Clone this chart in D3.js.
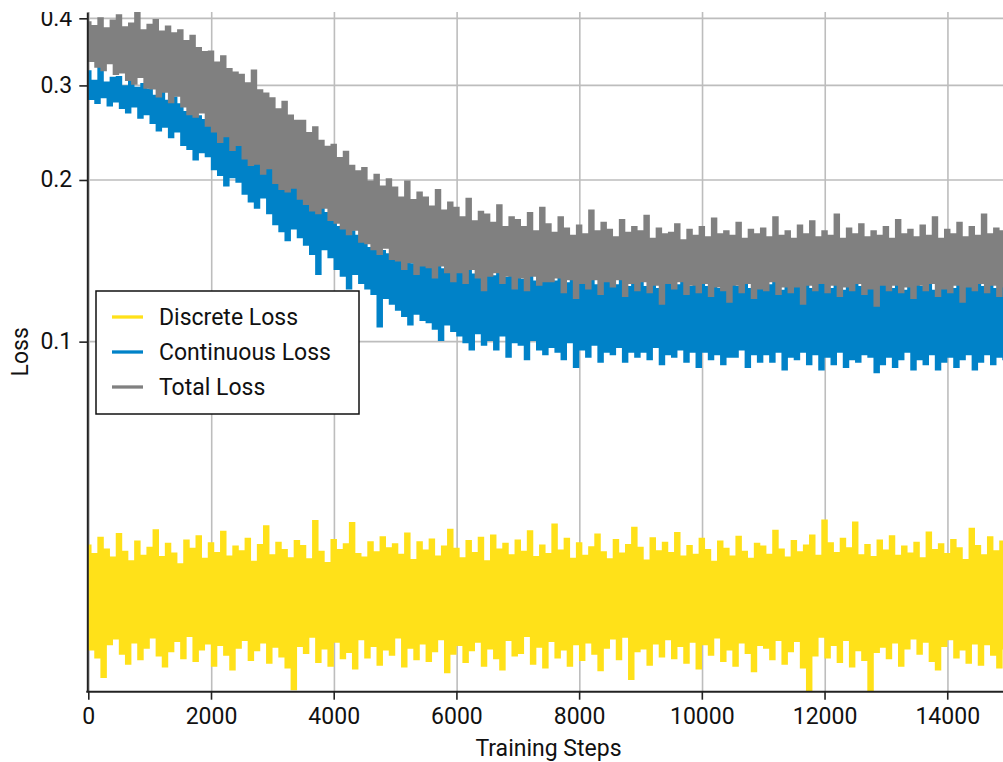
<!DOCTYPE html>
<html>
<head>
<meta charset="utf-8">
<script src="https://cdn.jsdelivr.net/npm/d3@7"></script>
<style>
  html, body { margin: 0; padding: 0; background: #fff; }
  svg { display: block; font-family: Roboto, "Noto Sans", sans-serif; }
</style>
</head>
<body>
<div id="chart"></div>
<script>
// one value every 50 training steps (high / low edge of the noise band alternate)
const stepSize = 50;

const discreteLoss = [
  .0416,.0268,.0401,.0259,.0430,.0238,.0409,.0274,.0395,.0281,
  .0437,.0263,.0405,.0252,.0389,.0276,.0423,.0257,.0398,.0270,
  .0412,.0282,.0444,.0261,.0396,.0249,.0419,.0266,.0402,.0278,
  .0384,.0258,.0425,.0284,.0410,.0255,.0433,.0268,.0393,.0275,
  .0420,.0250,.0403,.0273,.0441,.0262,.0397,.0246,.0414,.0270,
  .0406,.0279,.0428,.0256,.0388,.0267,.0417,.0276,.0452,.0253,
  .0399,.0271,.0421,.0260,.0408,.0248,.0394,.0226,.0424,.0272,
  .0415,.0264,.0392,.0283,.0462,.0254,.0405,.0269,.0386,.0250,
  .0426,.0277,.0408,.0258,.0418,.0265,.0458,.0247,.0401,.0280,
  .0395,.0259,.0422,.0272,.0404,.0251,.0431,.0268,.0411,.0262,
  .0418,.0282,.0400,.0249,.0438,.0270,.0391,.0257,.0422,.0275,
  .0407,.0255,.0427,.0266,.0397,.0280,.0414,.0243,.0445,.0263,
  .0410,.0273,.0394,.0254,.0424,.0267,.0403,.0277,.0430,.0250,
  .0389,.0269,.0434,.0258,.0409,.0246,.0419,.0279,.0399,.0261,
  .0425,.0264,.0405,.0284,.0442,.0252,.0396,.0271,.0416,.0248,
  .0401,.0278,.0455,.0259,.0407,.0268,.0428,.0250,.0393,.0274,
  .0420,.0256,.0398,.0276,.0413,.0263,.0436,.0245,.0404,.0270,
  .0392,.0281,.0426,.0257,.0402,.0283,.0417,.0236,.0449,.0266,
  .0412,.0269,.0390,.0251,.0429,.0275,.0406,.0260,.0421,.0280,
  .0403,.0258,.0439,.0272,.0397,.0253,.0415,.0277,.0400,.0247,
  .0428,.0274,.0408,.0262,.0388,.0282,.0423,.0255,.0410,.0268,
  .0397,.0250,.0432,.0276,.0405,.0264,.0393,.0244,.0419,.0273,
  .0414,.0270,.0400,.0257,.0443,.0279,.0409,.0252,.0395,.0266,
  .0424,.0278,.0404,.0248,.0416,.0224,.0434,.0261,.0398,.0283,
  .0463,.0259,.0420,.0273,.0403,.0254,.0428,.0279,.0411,.0249,
  .0459,.0267,.0399,.0256,.0417,.0224,.0396,.0265,.0425,.0271,
  .0407,.0258,.0433,.0276,.0398,.0250,.0414,.0269,.0402,.0281,
  .0421,.0263,.0394,.0277,.0440,.0255,.0408,.0246,.0418,.0272,
  .0401,.0280,.0426,.0259,.0411,.0268,.0391,.0253,.0447,.0275,
  .0415,.0251,.0399,.0274,.0431,.0262,.0406,.0248,.0423,.0269
];

const continuousLoss = [
  .318,.284,.305,.279,.326,.286,.303,.276,.309,.281,
  .310,.273,.298,.268,.306,.275,.296,.262,.301,.266,
  .294,.256,.286,.248,.291,.252,.280,.241,.284,.247,
  .276,.233,.267,.229,.272,.219,.262,.226,.258,.222,
  .255,.210,.245,.205,.250,.196,.240,.203,.236,.199,
  .233,.189,.225,.183,.229,.178,.219,.186,.214,.174,
  .211,.166,.202,.161,.207,.155,.197,.163,.193,.157,
  .190,.152,.182,.146,.186,.134,.177,.149,.173,.144,
  .171,.137,.163,.133,.167,.126,.160,.134,.157,.129,
  .156,.126,.149,.123,.153,.107,.147,.121,.145,.118,
  .147,.115,.141,.112,.145,.108,.139,.113,.143,.110,
  .144,.109,.138,.106,.142,.101,.136,.108,.140,.105,
  .140,.103,.134,.100,.138,.097,.133,.104,.137,.099,
  .137,.101,.132,.097,.136,.103,.131,.094,.135,.100,
  .136,.099,.130,.093,.134,.101,.129,.097,.133,.095,
  .134,.098,.129,.096,.133,.093,.128,.100,.132,.090,
  .133,.097,.128,.094,.132,.099,.127,.092,.131,.096,
  .132,.095,.127,.098,.131,.092,.126,.096,.130,.094,
  .131,.096,.126,.093,.130,.098,.125,.091,.129,.095,
  .132,.094,.127,.097,.130,.092,.126,.096,.129,.090,
  .131,.096,.126,.093,.130,.095,.125,.091,.129,.094,
  .130,.094,.126,.097,.131,.090,.125,.095,.129,.092,
  .132,.095,.127,.092,.130,.096,.124,.089,.129,.094,
  .130,.093,.126,.096,.131,.091,.125,.095,.128,.089,
  .130,.094,.125,.091,.129,.096,.124,.090,.128,.093,
  .131,.092,.126,.095,.129,.094,.125,.088,.128,.091,
  .129,.094,.125,.090,.130,.093,.124,.096,.128,.089,
  .130,.093,.126,.091,.129,.095,.124,.089,.128,.092,
  .131,.094,.125,.090,.129,.093,.126,.095,.128,.089,
  .130,.092,.126,.095,.129,.091,.125,.094,.131,.093
];

const totalLoss = [
  .392,.334,.386,.326,.399,.321,.382,.331,.395,.316,
  .404,.318,.384,.308,.390,.303,.411,.312,.379,.298,
  .388,.297,.396,.287,.377,.293,.385,.280,.374,.288,
  .379,.275,.362,.266,.370,.263,.351,.268,.345,.253,
  .346,.247,.330,.236,.339,.242,.321,.228,.316,.233,
  .313,.220,.302,.214,.319,.215,.293,.206,.289,.211,
  .283,.198,.270,.193,.279,.191,.263,.194,.257,.185,
  .257,.181,.244,.176,.250,.174,.236,.178,.230,.169,
  .232,.167,.219,.163,.225,.159,.212,.162,.207,.154,
  .210,.153,.198,.149,.204,.146,.194,.150,.200,.143,
  .193,.142,.185,.137,.198,.141,.183,.134,.189,.139,
  .185,.138,.178,.132,.191,.139,.175,.135,.181,.130,
  .177,.135,.170,.129,.184,.137,.167,.132,.174,.125,
  .172,.133,.166,.135,.179,.129,.163,.133,.170,.126,
  .168,.132,.163,.125,.173,.133,.160,.128,.177,.130,
  .165,.130,.159,.132,.170,.124,.162,.131,.157,.121,
  .164,.129,.158,.126,.175,.131,.160,.123,.166,.130,
  .161,.127,.156,.131,.168,.122,.159,.129,.163,.125,
  .160,.130,.171,.124,.155,.128,.162,.118,.158,.129,
  .159,.126,.165,.130,.154,.123,.161,.128,.157,.124,
  .163,.129,.156,.122,.169,.127,.158,.125,.160,.119,
  .157,.128,.166,.124,.155,.129,.161,.121,.158,.126,
  .162,.125,.156,.130,.170,.123,.157,.127,.160,.124,
  .155,.127,.164,.118,.158,.128,.167,.125,.156,.129,
  .160,.124,.157,.128,.172,.122,.155,.127,.162,.125,
  .158,.129,.165,.123,.156,.126,.160,.117,.157,.128,
  .163,.125,.155,.128,.168,.124,.158,.127,.161,.121,
  .156,.128,.164,.125,.157,.129,.170,.122,.155,.126,
  .161,.124,.158,.128,.166,.119,.156,.127,.163,.125,
  .157,.129,.172,.124,.158,.128,.162,.122,.160,.127
];

const seriesNames = ["Discrete Loss", "Continuous Loss", "Total Loss"];
const seriesColors = ["#ffe119", "#0082c8", "#808080"];
const xTicks = [0, 2000, 4000, 6000, 8000, 10000, 12000, 14000];
const yTicks = [0.1, 0.2, 0.3, 0.4];

const W = 1003, H = 762;
const plot = { left: 88.3, right: 1008.6, top: 12, bottom: 691.7 };

const svg = d3.select("#chart").append("svg")
  .attr("width", W)
  .attr("height", H);

// the original figure is cut off along its top edge
svg.append("defs").append("clipPath").attr("id", "page")
  .append("rect").attr("x", 0).attr("y", 12).attr("width", W).attr("height", H - 12);
svg.append("defs").append("clipPath").attr("id", "plotArea")
  .append("rect").attr("x", plot.left - 1).attr("y", plot.top)
  .attr("width", W).attr("height", plot.bottom - plot.top);

const root = svg.append("g").attr("clip-path", "url(#page)");

const x = d3.scaleLinear().domain([0, 15000]).range([plot.left, plot.right]);
const y = d3.scaleLog().domain([0.02229, 0.411]).range([plot.bottom, plot.top]);

// grid
root.append("g")
  .selectAll("line")
  .data(xTicks)
  .join("line")
  .attr("x1", d => x(d) + 0.7).attr("x2", d => x(d) + 0.7)
  .attr("y1", plot.top).attr("y2", plot.bottom)
  .attr("stroke", "#bdbdbd").attr("stroke-width", 1.6);

root.append("g")
  .selectAll("line")
  .data(yTicks)
  .join("line")
  .attr("x1", plot.left).attr("x2", W)
  .attr("y1", d => y(d)).attr("y2", d => y(d))
  .attr("stroke", "#bdbdbd").attr("stroke-width", 1.6);

// series: dense noisy curves, drawn as steps so the band fills in
const line = d3.line()
  .curve(d3.curveStep)
  .x((d, i) => x(i * stepSize))
  .y(d => y(d));

const lines = root.append("g").attr("clip-path", "url(#plotArea)");
[discreteLoss, continuousLoss, totalLoss].forEach((values, k) => {
  lines.append("path")
    .datum(values)
    .attr("d", line)
    .attr("fill", "none")
    .attr("stroke", seriesColors[k])
    .attr("stroke-width", 3.4);
});

// axes
const xAxis = root.append("g")
  .attr("transform", `translate(0,${plot.bottom})`)
  .call(d3.axisBottom(x).tickValues(xTicks).tickFormat(d3.format("d"))
    .tickSize(8).tickSizeOuter(0).tickPadding(8));

const yAxis = root.append("g")
  .attr("transform", `translate(${plot.left - 1},0)`)
  .call(d3.axisLeft(y).tickValues(yTicks).tickFormat(d3.format(".1f"))
    .tickSize(8).tickSizeOuter(0).tickPadding(7));

[xAxis, yAxis].forEach(g => {
  g.select(".domain").attr("stroke", "#222").attr("stroke-width", 2);
  g.selectAll(".tick line").attr("stroke", "#222").attr("stroke-width", 1.6);
  g.selectAll(".tick text")
    .attr("fill", "#111")
    .style("font-size", "23px")
    .style("font-family", "Roboto, sans-serif");
});
xAxis.select(".domain").attr("d", `M${plot.left - 2},0H${W}`);
yAxis.selectAll(".tick text").attr("dy", "0.3em");

// axis titles
root.append("text")
  .attr("x", (plot.left + plot.right) / 2)
  .attr("y", 756)
  .attr("text-anchor", "middle")
  .attr("fill", "#111")
  .style("font-size", "23px")
  .text("Training Steps");

root.append("text")
  .attr("transform", `translate(28,${(plot.top + plot.bottom) / 2}) rotate(-90)`)
  .attr("text-anchor", "middle")
  .attr("fill", "#111")
  .style("font-size", "23px")
  .text("Loss");

// legend
const legend = root.append("g").attr("transform", "translate(96,291)");
legend.append("rect")
  .attr("width", 263).attr("height", 123)
  .attr("fill", "#fff")
  .attr("stroke", "#111").attr("stroke-width", 1.5);

seriesNames.forEach((name, k) => {
  const row = legend.append("g").attr("transform", `translate(0,${26 + k * 35})`);
  row.append("line")
    .attr("x1", 16).attr("x2", 47)
    .attr("y1", 0).attr("y2", 0)
    .attr("stroke", seriesColors[k]).attr("stroke-width", 3.3);
  row.append("text")
    .attr("x", 63).attr("y", 7.5)
    .attr("fill", "#111")
    .style("font-size", "23px")
    .text(name);
});
</script>
</body>
</html>
